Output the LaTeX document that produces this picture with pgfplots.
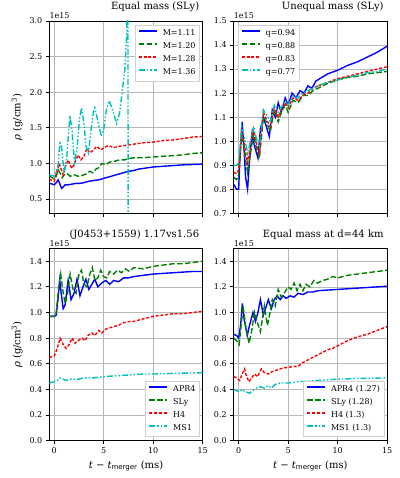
\documentclass[border=0pt]{standalone}
\usepackage{pgfplots}
\pgfplotsset{compat=1.18}
\usepackage{fontspec}
\setmainfont{DejaVu Serif}
\setsansfont{DejaVu Sans}
\definecolor{mb}{rgb}{0,0,1}
\definecolor{mg}{rgb}{0,0.5,0}
\definecolor{mr}{rgb}{1,0,0}
\definecolor{mc}{rgb}{0,0.75,0.75}
\pgfplotsset{
 base/.style={
  scale only axis, width=153.4pt, height=192.3pt,
  xmin=-0.5, xmax=15, xtick={0,5,10,15},
  tick align=outside, tick pos=left,
  major tick length=3.5pt,
  grid=major, major grid style={color=black!28, line width=0.7pt},
  axis line style={line width=0.8pt},
  every tick/.style={black, line width=0.8pt},
  tick label style={font=\fontsize{8}{9}\selectfont},
  /pgf/number format/assume math mode=true,
  yticklabel style={/pgf/number format/fixed, /pgf/number format/fixed zerofill, /pgf/number format/precision=1},
  label style={font=\fontsize{10}{12}\selectfont},
  title style={font=\fontsize{10}{12}\selectfont, at={(1,1)}, anchor=base east, yshift=5pt},
  legend style={font=\fontsize{8}{9}\selectfont, draw=black!18, fill=white, inner xsep=3pt, inner ysep=1.8pt, row sep=0pt, column sep=4pt,
    nodes={inner xsep=1pt, inner ysep=0pt, text height=6pt, text depth=1.7pt, minimum height=13pt}},
  legend image code/.code={\draw[#1, line width=1.8pt] (0pt,2.5pt) -- (18pt,2.5pt);},
  legend cell align=left,
  extra description/.code={\node[anchor=south west, inner sep=0pt, font=\fontsize{8}{9}\selectfont] at (0,1) [yshift=2pt] {1e15};},
 },
 notx/.style={xticklabels={{},{},{},{}}},
 sb/.style={color=mb, line width=1.4pt},
 sg/.style={color=mg, line width=1.4pt, dash pattern=on 5.5pt off 2.4pt},
 sr/.style={color=mr, line width=1.4pt, dash pattern=on 3pt off 1.8pt},
 sc/.style={color=mc, line width=1.4pt, dash pattern=on 6pt off 2pt on 1.5pt off 2pt on 1.5pt off 2pt},
}
\begin{document}
\begin{tikzpicture}
\useasboundingbox (0,0) rectangle (399pt,478pt);
% ---------------- top left
\begin{axis}[base, notx, at={(49.3pt,264.7pt)}, anchor=south west,
  ymin=0.3, ymax=3.0, ytick={0.5,1.0,1.5,2.0,2.5,3.0},
  ylabel={{\itshape ρ} (g/cm\textsuperscript{3})},
  title={Equal mass (SLy)},
  legend style={at={(1,1)}, anchor=north east, xshift=-3pt, yshift=-4pt}]
\addplot[sb] coordinates {(-0.5,0.72) (-0.2,0.71) (0,0.70) (0.2,0.73) (0.4,0.77) (0.6,0.70) (0.75,0.65) (0.9,0.67) (1.1,0.70) (1.4,0.70) (1.8,0.71) (2.2,0.72) (2.6,0.72) (3.0,0.73) (3.5,0.75) (4.0,0.76) (4.5,0.77) (5.0,0.79) (5.5,0.81) (6.0,0.83) (6.5,0.85) (7.0,0.87) (7.5,0.89) (8.0,0.90) (8.5,0.92) (9.0,0.93) (9.5,0.94) (10,0.95) (11,0.96) (12,0.97) (13,0.98) (14,0.985) (15,0.99)};
\addplot[sg] coordinates {(-0.5,0.82) (-0.2,0.80) (0,0.78) (0.2,0.82) (0.4,0.91) (0.6,0.86) (0.8,0.80) (1.0,0.84) (1.3,0.86) (1.6,0.82) (2.0,0.84) (2.4,0.82) (2.8,0.83) (3.2,0.85) (3.6,0.89) (3.9,0.87) (4.2,0.92) (4.5,0.94) (4.8,1.00) (5.2,0.98) (5.6,1.02) (6.1,1.03) (6.6,1.05) (7.1,1.05) (7.6,1.07) (8.1,1.08) (9,1.08) (10,1.09) (11,1.10) (12,1.11) (13,1.12) (14,1.14) (15,1.15)};
\addplot[sr] coordinates {(-0.5,0.78) (-0.2,0.76) (0,0.75) (0.2,0.85) (0.5,1.00) (0.7,0.92) (0.9,0.84) (1.1,0.95) (1.4,1.05) (1.6,0.98) (1.8,0.93) (2.1,1.02) (2.4,1.12) (2.7,1.05) (3.0,1.10) (3.3,1.21) (3.6,1.15) (3.9,1.18) (4.3,1.24) (4.7,1.19) (5.1,1.23) (5.5,1.25) (6.0,1.22) (6.5,1.24) (7.0,1.25) (7.5,1.26) (8.0,1.27) (8.5,1.28) (9,1.29) (10,1.30) (11,1.32) (12,1.33) (13,1.35) (14,1.37) (15,1.38)};
\addplot[sc] coordinates {(-0.5,0.84) (-0.2,0.83) (0,0.82) (0.2,0.88) (0.4,0.98) (0.57,1.31) (0.75,1.22) (1.0,0.86) (1.25,1.05) (1.45,1.45) (1.6,1.67) (1.8,1.45) (2.05,1.02) (2.3,1.20) (2.55,1.62) (2.76,1.78) (3.0,1.55) (3.2,1.25) (3.45,1.15) (3.7,1.45) (3.95,1.72) (4.1,1.78) (4.4,1.60) (4.75,1.38) (5.0,1.48) (5.3,1.78) (5.55,1.88) (5.9,1.75) (6.3,1.56) (6.6,1.70) (6.9,2.05) (7.13,2.31) (7.3,2.75) (7.42,3.4) (7.44,3.6) (7.47,0.0)};
\legend{M=1.11, M=1.20, M=1.28, M=1.36}
\end{axis}
% ---------------- top right
\begin{axis}[base, notx, at={(233.7pt,264.7pt)}, anchor=south west,
  ymin=0.7, ymax=1.5, ytick={0.7,0.8,0.9,1.0,1.1,1.2,1.3,1.4,1.5},
  title={Unequal mass (SLy)},
  legend style={at={(0,1)}, anchor=north west, xshift=4pt, yshift=-4pt}]
\addplot[sb] coordinates {(-0.5,0.82) (-0.2,0.80) (0,0.80) (0.15,0.95) (0.35,1.08) (0.5,1.00) (0.7,0.85) (0.9,0.80) (1.1,0.92) (1.35,1.03) (1.6,0.98) (1.95,0.93) (2.2,1.05) (2.5,1.10) (2.8,1.06) (3.1,1.02) (3.4,1.13) (3.7,1.10) (4.0,1.16) (4.3,1.12) (4.7,1.18) (5.0,1.15) (5.4,1.20) (5.8,1.18) (6.2,1.21) (6.6,1.20) (7.0,1.23) (7.4,1.22) (7.8,1.25) (8.2,1.26) (9,1.28) (10,1.295) (11,1.315) (12,1.33) (13,1.35) (14,1.37) (15,1.395)};
\addplot[sg] coordinates {(-0.5,0.85) (-0.2,0.84) (0,0.86) (0.3,1.02) (0.5,0.98) (0.9,0.87) (1.2,0.95) (1.5,1.03) (1.8,0.97) (2.1,0.93) (2.5,1.10) (2.8,1.08) (3.2,1.04) (3.6,1.13) (4.0,1.08) (4.3,1.12) (4.7,1.15) (5.0,1.12) (5.5,1.17) (6.0,1.16) (6.5,1.19) (7,1.19) (7.5,1.21) (8,1.22) (9,1.24) (10,1.255) (11,1.265) (12,1.27) (13,1.28) (14,1.285) (15,1.29)};
\addplot[sr] coordinates {(-0.5,0.87) (-0.2,0.865) (0,0.88) (0.3,1.04) (0.5,1.00) (0.9,0.91) (1.2,0.98) (1.5,1.05) (1.8,0.99) (2.1,0.95) (2.5,1.12) (2.8,1.09) (3.2,1.06) (3.6,1.14) (4.0,1.10) (4.3,1.13) (4.7,1.16) (5.0,1.14) (5.5,1.18) (6.0,1.17) (6.5,1.19) (7,1.20) (7.5,1.22) (8,1.23) (9,1.245) (10,1.26) (11,1.27) (12,1.28) (13,1.29) (14,1.30) (15,1.31)};
\addplot[sc] coordinates {(-0.5,0.90) (-0.2,0.90) (0,0.91) (0.3,1.06) (0.5,1.03) (0.9,0.95) (1.2,1.00) (1.5,1.06) (1.8,1.01) (2.1,0.98) (2.5,1.13) (2.8,1.11) (3.2,1.08) (3.6,1.15) (4.0,1.12) (4.3,1.14) (4.7,1.17) (5.0,1.15) (5.5,1.19) (6.0,1.18) (6.5,1.20) (7,1.21) (7.5,1.22) (8,1.23) (9,1.245) (10,1.255) (11,1.265) (12,1.275) (13,1.285) (14,1.29) (15,1.30)};
\legend{q=0.94, q=0.88, q=0.83, q=0.77}
\end{axis}
% ---------------- bottom left
\begin{axis}[base, at={(49.3pt,37.3pt)}, anchor=south west,
  ymin=0, ymax=1.5, ytick={0,0.2,0.4,0.6,0.8,1.0,1.2,1.4},
  xlabel={{\itshape t} − {\itshape t}\textsubscript{\sffamily merger} (ms)},
  ylabel={{\itshape ρ} (g/cm\textsuperscript{3})},
  title={(J0453+1559) 1.17vs1.56},
  legend style={at={(1,0)}, anchor=south east, xshift=-3pt, yshift=4pt}]
\addplot[sb] coordinates {(-0.5,0.97) (0,0.97) (0.2,0.98) (0.4,1.12) (0.55,1.25) (0.7,1.15) (0.9,1.03) (1.1,1.06) (1.4,1.25) (1.7,1.10) (2.0,1.15) (2.3,1.26) (2.6,1.13) (2.9,1.20) (3.2,1.26) (3.5,1.18) (3.8,1.22) (4.1,1.26) (4.4,1.20) (4.8,1.23) (5.2,1.25) (5.6,1.22) (6,1.25) (6.5,1.24) (7,1.27) (7.5,1.27) (8,1.28) (9,1.29) (10,1.30) (11,1.305) (12,1.31) (13,1.315) (14,1.32) (15,1.32)};
\addplot[sg] coordinates {(-0.5,0.97) (0,0.97) (0.2,1.00) (0.45,1.20) (0.65,1.30) (0.85,1.18) (1.1,1.07) (1.35,1.15) (1.6,1.30) (1.9,1.18) (2.2,1.15) (2.5,1.30) (2.75,1.33) (3.0,1.22) (3.3,1.20) (3.6,1.30) (3.85,1.35) (4.1,1.25) (4.4,1.27) (4.7,1.33) (5.0,1.28) (5.3,1.27) (5.6,1.32) (6.0,1.30) (6.4,1.33) (6.8,1.31) (7.2,1.34) (7.6,1.32) (8,1.35) (9,1.34) (10,1.36) (11,1.37) (12,1.38) (13,1.38) (14,1.39) (15,1.40)};
\addplot[sr] coordinates {(-0.5,0.65) (0,0.66) (0.3,0.72) (0.6,0.80) (0.9,0.75) (1.2,0.72) (1.5,0.75) (1.8,0.80) (2.1,0.76) (2.4,0.78) (2.8,0.80) (3.1,0.78) (3.4,0.82) (3.8,0.84) (4.1,0.82) (4.5,0.86) (4.8,0.84) (5.2,0.87) (5.6,0.88) (6,0.89) (6.5,0.90) (7,0.92) (7.5,0.93) (8,0.93) (8.5,0.94) (9,0.95) (10,0.97) (11,0.98) (12,0.99) (13,0.99) (14,1.00) (15,1.01)};
\addplot[sc] coordinates {(-0.5,0.45) (0,0.46) (0.3,0.47) (0.6,0.49) (0.9,0.48) (1.2,0.47) (1.6,0.48) (2.0,0.48) (2.5,0.48) (3,0.49) (4,0.49) (5,0.50) (6,0.505) (7,0.51) (8,0.515) (9,0.52) (10,0.52) (12,0.525) (15,0.53)};
\legend{APR4, SLy, H4, MS1}
\end{axis}
% ---------------- bottom right
\begin{axis}[base, at={(233.7pt,37.3pt)}, anchor=south west,
  ymin=0, ymax=1.5, ytick={0,0.2,0.4,0.6,0.8,1.0,1.2,1.4},
  xlabel={{\itshape t} − {\itshape t}\textsubscript{\sffamily merger} (ms)},
  title={Equal mass at d=44 km},
  legend style={at={(1,0)}, anchor=south east, xshift=-3pt, yshift=4pt}]
\addplot[sb] coordinates {(-0.5,0.83) (-0.2,0.82) (0,0.80) (0.2,0.90) (0.37,1.07) (0.55,0.95) (0.87,0.82) (1.1,0.90) (1.45,1.00) (1.7,0.93) (1.95,1.00) (2.2,1.10) (2.5,0.98) (2.8,1.05) (3.0,1.10) (3.3,1.03) (3.6,1.10) (3.9,1.13) (4.2,1.10) (4.5,1.13) (4.8,1.11) (5.2,1.13) (5.6,1.12) (6,1.15) (6.5,1.14) (7,1.16) (7.5,1.16) (8,1.17) (9,1.175) (10,1.18) (11,1.185) (12,1.19) (13,1.195) (14,1.20) (15,1.205)};
\addplot[sg] coordinates {(-0.5,0.80) (-0.2,0.78) (0.05,0.75) (0.25,0.90) (0.45,1.05) (0.7,0.90) (1.05,0.76) (1.3,0.85) (1.6,1.00) (1.9,0.92) (2.2,0.85) (2.6,1.05) (2.9,0.90) (3.1,0.97) (3.4,1.10) (3.7,1.05) (4.0,1.18) (4.3,1.12) (4.6,1.15) (5.0,1.20) (5.3,1.18) (5.6,1.23) (5.9,1.17) (6.2,1.22) (6.5,1.17) (6.8,1.22) (7.2,1.20) (7.6,1.25) (8,1.23) (8.5,1.25) (9,1.26) (9.5,1.28) (10,1.27) (11,1.29) (12,1.30) (13,1.31) (14,1.32) (15,1.33)};
\addplot[sr] coordinates {(-0.5,0.50) (-0.2,0.49) (0.1,0.47) (0.4,0.53) (0.6,0.56) (0.8,0.50) (1.05,0.46) (1.3,0.49) (1.6,0.52) (1.9,0.50) (2.3,0.56) (2.6,0.53) (3.0,0.52) (3.4,0.54) (3.8,0.55) (4.2,0.56) (4.6,0.57) (5,0.57) (5.5,0.58) (6,0.58) (6.5,0.61) (7,0.63) (7.5,0.65) (8,0.67) (8.5,0.69) (9,0.71) (9.5,0.72) (10,0.74) (11,0.78) (12,0.81) (13,0.83) (14,0.86) (15,0.89)};
\addplot[sc] coordinates {(-0.5,0.40) (-0.2,0.39) (0.1,0.38) (0.3,0.40) (0.5,0.39) (0.8,0.38) (1.1,0.37) (1.4,0.39) (1.8,0.41) (2.2,0.42) (2.6,0.41) (3.0,0.43) (3.3,0.41) (3.7,0.44) (4.2,0.45) (5,0.45) (6,0.46) (7,0.465) (8,0.47) (9,0.475) (10,0.48) (12,0.485) (15,0.49)};
\legend{APR4 (1.27), SLy (1.28), H4 (1.3), MS1 (1.3)}
\end{axis}
\end{tikzpicture}
\end{document}
